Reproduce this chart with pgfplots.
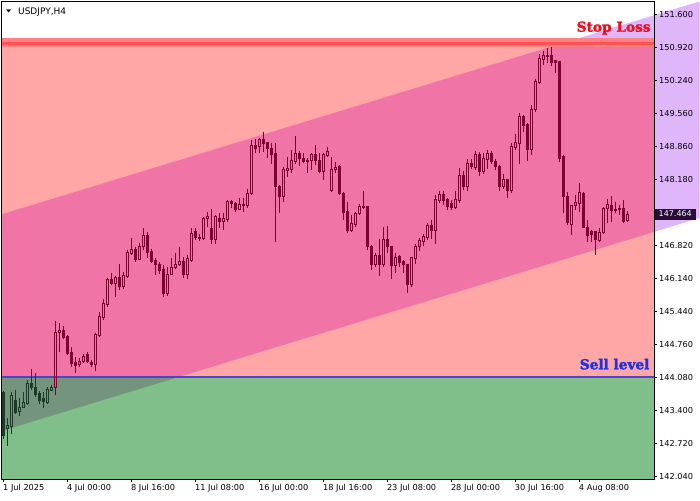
\documentclass[border=0pt]{standalone}
\usepackage{fontspec}
\setmainfont{DejaVu Sans}
\newfontfamily\lblfont[BoldFeatures={FakeBold=2.2}]{DejaVu Serif}
\usepackage{pgfplots}
\pgfplotsset{compat=1.18}

\definecolor{zSalmon}{RGB}{255,166,166}
\definecolor{zGreen}{RGB}{128,191,138}
\definecolor{chPink}{RGB}{240,116,166}
\definecolor{chGray}{RGB}{117,148,126}
\definecolor{chLav}{RGB}{224,182,250}
\definecolor{slBand}{RGB}{255,128,128}
\definecolor{slCore}{RGB}{255,82,82}
\definecolor{sellLine}{RGB}{95,60,200}
\definecolor{cMaroon}{RGB}{122,0,52}
\definecolor{cGreen}{RGB}{28,58,40}
\definecolor{pBox}{RGB}{42,12,56}
\definecolor{slText}{RGB}{238,16,32}
\definecolor{selText}{RGB}{30,50,230}

% candle: color, index, open, high, low, close
\newcommand\CC[6]{%
  \pgfmathsetmacro\xa{#2-0.25}%
  \pgfmathsetmacro\xb{#2+0.25}%
  \ifdim #3pt>#6pt
    \addplot[mark=none,line width=1pt,#1] coordinates {(#2,#4) (#2,#3)};
    \addplot[mark=none,line width=1pt,#1] coordinates {(#2,#6) (#2,#5)};
    \addplot[mark=none,line width=1pt,draw=#1,fill=#1] coordinates {(\xa,#3) (\xb,#3) (\xb,#6) (\xa,#6) (\xa,#3)};
  \else
    \addplot[mark=none,line width=1pt,#1] coordinates {(#2,#4) (#2,#6)};
    \addplot[mark=none,line width=1pt,#1] coordinates {(#2,#3) (#2,#5)};
    \addplot[mark=none,line width=1pt,draw=#1,fill=none] coordinates {(\xa,#3) (\xb,#3) (\xb,#6) (\xa,#6) (\xa,#3)};
  \fi}
\newcommand\Cg{\CC{cGreen}}
\newcommand\Cm{\CC{cMaroon}}

\begin{document}
\begin{tikzpicture}
\path[use as bounding box] (0pt,0pt) rectangle (700pt,500pt);
\begin{axis}[
  at={(2pt,21pt)}, anchor=south west,
  scale only axis, width=652pt, height=477.5pt,
  xmin=-0.375, xmax=162.7, ymin=141.979, ymax=151.865,
  clip=false, axis on top,
  axis line style={black, line width=1pt},
  tick style={black, line width=0.8pt},
  tick align=outside, major tick length=3pt,
  xtick pos=bottom, ytick pos=right, yticklabel pos=right,
  xtick={0,16,32,48,64,80,96,112,128,144},
  xticklabels={1 Jul 2025,4 Jul 00:00,8 Jul 16:00,11 Jul 08:00,16 Jul 00:00,18 Jul 16:00,23 Jul 08:00,28 Jul 00:00,30 Jul 16:00,4 Aug 08:00},
  ytick={151.6,150.917,150.234,149.551,148.869,148.186,146.820,146.137,145.454,144.771,144.089,143.406,142.723,142.040},
  yticklabels={151.600,150.920,150.240,149.560,148.860,148.180,146.820,146.140,145.440,144.760,144.080,143.400,142.720,142.040},
  ticklabel style={font=\fontsize{8.2}{9}\selectfont, text=black},
  xticklabel style={anchor=north west, inner sep=0pt, xshift=-0.5pt, yshift=-2pt},
  yticklabel style={anchor=west, inner sep=0pt, xshift=2pt},
]
% zones
\addplot[draw=none, fill=zSalmon] coordinates {(-0.375,144.10) (162.7,144.10) (162.7,150.93) (-0.375,150.93)};
\addplot[draw=none, fill=zGreen] coordinates {(-0.375,141.979) (162.7,141.979) (162.7,144.10) (-0.375,144.10)};
% channel
\addplot[draw=none, fill=chPink] coordinates {(-0.375,144.10) (44.18,144.10) (162.7,147.094) (162.7,150.93) (136.98,150.93) (-0.375,147.461)};
\addplot[draw=none, fill=chGray] coordinates {(-0.375,142.975) (44.18,144.10) (-0.375,144.10)};
\addplot[draw=none, fill=chLav] coordinates {(136.98,150.93) (162.7,151.58) (162.7,150.93)};
\addplot[draw=none, fill=chLav] coordinates {(162.7,147.094) (174.1,147.382) (174.1,151.865) (162.7,151.58)};
% stop loss band and line
\addplot[draw=none, fill=slBand] coordinates {(-0.375,150.93) (162.7,150.93) (162.7,151.10) (-0.375,151.10)};
\addplot[draw=none, fill=slCore] coordinates {(-0.375,150.965) (162.7,150.965) (162.7,151.035) (-0.375,151.035)};
% sell level line
\addplot[sellLine, line width=2pt, mark=none] coordinates {(-0.375,144.10) (162.7,144.10)};

% candles: index, open, high, low, close
\Cg{0}{143.77}{143.80}{142.80}{142.88}
\Cg{1}{143.02}{143.24}{142.66}{143.08}
\Cg{2}{143.06}{143.79}{142.92}{143.70}
\Cg{3}{143.61}{143.83}{143.33}{143.35}
\Cg{4}{143.37}{143.65}{143.28}{143.46}
\Cg{5}{143.46}{143.78}{143.45}{143.56}
\Cg{6}{143.55}{144.03}{143.51}{143.96}
\Cg{7}{143.96}{144.26}{143.82}{143.88}
\Cg{8}{143.88}{144.17}{143.68}{143.72}
\Cg{9}{143.74}{143.80}{143.54}{143.60}
\Cg{10}{143.64}{143.78}{143.45}{143.58}
\Cg{11}{143.56}{143.89}{143.55}{143.84}
\Cg{12}{143.82}{143.93}{143.80}{143.88}
\Cm{13}{143.88}{145.24}{143.72}{145.01}
\Cm{14}{145.01}{145.21}{144.61}{145.06}
\Cm{15}{145.06}{145.15}{144.87}{144.91}
\Cm{16}{144.92}{144.96}{144.55}{144.58}
\Cm{17}{144.59}{144.72}{144.29}{144.36}
\Cm{18}{144.40}{144.51}{144.18}{144.33}
\Cm{19}{144.35}{144.49}{144.29}{144.42}
\Cm{20}{144.41}{144.57}{144.38}{144.51}
\Cm{21}{144.55}{144.60}{144.38}{144.41}
\Cm{22}{144.40}{144.45}{144.30}{144.35}
\Cm{23}{144.35}{145.01}{144.22}{144.98}
\Cm{24}{144.96}{145.43}{144.92}{145.34}
\Cm{25}{145.33}{145.70}{145.27}{145.62}
\Cm{26}{145.60}{146.14}{145.55}{146.11}
\Cm{27}{146.11}{146.25}{145.99}{146.02}
\Cm{28}{146.02}{146.19}{145.74}{146.15}
\Cm{29}{146.15}{146.44}{145.89}{145.97}
\Cm{30}{145.97}{146.27}{145.92}{146.20}
\Cm{31}{146.18}{146.73}{146.15}{146.66}
\Cm{32}{146.64}{146.96}{146.62}{146.74}
\Cm{33}{146.74}{146.79}{146.47}{146.53}
\Cm{34}{146.53}{146.87}{146.51}{146.80}
\Cm{35}{146.79}{147.17}{146.73}{147.03}
\Cm{36}{147.03}{147.10}{146.55}{146.66}
\Cm{37}{146.68}{146.75}{146.46}{146.48}
\Cm{38}{146.50}{146.56}{146.20}{146.43}
\Cm{39}{146.43}{146.47}{146.22}{146.29}
\Cm{40}{146.32}{146.40}{145.74}{145.82}
\Cm{41}{145.82}{146.36}{145.77}{146.22}
\Cm{42}{146.22}{146.55}{146.20}{146.36}
\Cm{43}{146.36}{146.66}{146.33}{146.43}
\Cm{44}{146.41}{146.79}{146.40}{146.48}
\Cm{45}{146.48}{146.58}{146.14}{146.22}
\Cm{46}{146.22}{146.62}{146.12}{146.55}
\Cm{47}{146.51}{147.17}{146.47}{147.07}
\Cm{48}{147.10}{147.18}{146.93}{146.98}
\Cm{49}{146.98}{147.05}{146.90}{146.96}
\Cm{50}{146.96}{147.41}{146.93}{147.38}
\Cm{51}{147.37}{147.51}{147.20}{147.41}
\Cm{52}{147.17}{147.56}{146.84}{146.94}
\Cm{53}{146.94}{147.44}{146.84}{147.41}
\Cm{54}{147.37}{147.48}{147.17}{147.31}
\Cm{55}{147.31}{147.48}{147.13}{147.37}
\Cm{56}{147.35}{147.75}{147.31}{147.72}
\Cm{57}{147.72}{147.75}{147.58}{147.69}
\Cm{58}{147.69}{147.72}{147.51}{147.56}
\Cm{59}{147.56}{147.79}{147.55}{147.67}
\Cm{60}{147.67}{147.79}{147.51}{147.64}
\Cm{61}{147.65}{147.99}{147.60}{147.89}
\Cm{62}{147.88}{148.99}{147.86}{148.89}
\Cm{63}{148.89}{149.01}{148.72}{148.82}
\Cm{64}{148.86}{149.03}{148.72}{149.00}
\Cm{65}{149.00}{149.17}{148.75}{148.93}
\Cm{66}{148.94}{148.96}{148.62}{148.82}
\Cm{67}{148.82}{148.93}{148.51}{148.69}
\Cm{68}{148.72}{148.93}{146.89}{148.03}
\Cm{69}{148.03}{148.06}{147.48}{147.82}
\Cm{70}{147.82}{148.44}{147.72}{148.39}
\Cm{71}{148.36}{148.65}{148.24}{148.41}
\Cm{72}{148.39}{148.79}{148.31}{148.58}
\Cm{73}{148.55}{149.08}{148.51}{148.72}
\Cm{74}{148.72}{148.76}{148.45}{148.62}
\Cm{75}{148.62}{148.72}{148.53}{148.55}
\Cm{76}{148.58}{148.62}{148.31}{148.56}
\Cm{77}{148.58}{148.72}{148.38}{148.69}
\Cm{78}{148.69}{148.89}{148.48}{148.57}
\Cm{79}{148.58}{148.72}{148.31}{148.34}
\Cm{80}{148.34}{148.72}{148.17}{148.69}
\Cm{81}{148.67}{148.86}{148.65}{148.76}
\Cm{82}{147.96}{148.65}{147.93}{148.39}
\Cm{83}{148.39}{148.55}{148.32}{148.43}
\Cm{84}{148.45}{148.47}{147.85}{147.89}
\Cm{85}{147.89}{147.92}{147.34}{147.49}
\Cm{86}{147.51}{147.72}{147.08}{147.13}
\Cm{87}{147.13}{147.44}{147.10}{147.27}
\Cm{88}{147.24}{147.51}{147.20}{147.48}
\Cm{89}{147.48}{147.67}{147.44}{147.63}
\Cm{90}{147.63}{147.95}{147.58}{147.60}
\Cm{91}{147.62}{147.63}{146.72}{146.79}
\Cm{92}{146.80}{146.82}{146.31}{146.41}
\Cm{93}{146.41}{146.66}{146.37}{146.60}
\Cm{94}{146.60}{146.94}{146.18}{146.43}
\Cm{95}{146.43}{147.19}{146.37}{146.94}
\Cm{96}{146.94}{147.22}{146.65}{146.79}
\Cm{97}{146.80}{146.80}{146.11}{146.39}
\Cm{98}{146.39}{146.66}{146.24}{146.57}
\Cm{99}{146.58}{146.62}{146.37}{146.46}
\Cm{100}{146.48}{146.51}{146.24}{146.41}
\Cm{101}{146.43}{146.44}{145.84}{146.00}
\Cm{102}{146.00}{146.58}{145.95}{146.57}
\Cm{103}{146.55}{146.84}{146.44}{146.80}
\Cm{104}{146.79}{146.96}{146.70}{146.91}
\Cm{105}{146.89}{147.05}{146.80}{146.99}
\Cm{106}{146.98}{147.28}{146.92}{147.22}
\Cm{107}{147.22}{147.35}{146.95}{147.13}
\Cm{108}{147.12}{147.86}{146.85}{147.76}
\Cm{109}{147.74}{147.95}{147.70}{147.86}
\Cm{110}{147.86}{147.95}{147.66}{147.74}
\Cm{111}{147.76}{147.80}{147.55}{147.62}
\Cm{112}{147.68}{147.76}{147.55}{147.60}
\Cm{113}{147.60}{147.95}{147.56}{147.76}
\Cm{114}{147.74}{148.42}{147.70}{148.27}
\Cm{115}{148.27}{148.35}{147.96}{148.03}
\Cm{116}{148.03}{148.60}{147.95}{148.51}
\Cm{117}{148.51}{148.60}{148.40}{148.45}
\Cm{118}{148.43}{148.76}{148.38}{148.69}
\Cm{119}{148.69}{148.74}{148.25}{148.34}
\Cm{120}{148.34}{148.72}{148.30}{148.62}
\Cm{121}{148.60}{148.80}{148.40}{148.72}
\Cm{122}{148.72}{148.78}{148.50}{148.55}
\Cm{123}{148.55}{148.60}{148.38}{148.45}
\Cm{124}{148.45}{148.47}{147.95}{148.04}
\Cm{125}{148.04}{148.30}{147.98}{148.17}
\Cm{126}{148.17}{148.20}{147.79}{147.96}
\Cm{127}{147.95}{148.93}{147.90}{148.86}
\Cm{128}{148.85}{149.13}{148.80}{148.94}
\Cm{129}{148.93}{149.55}{148.51}{149.49}
\Cm{130}{149.49}{149.51}{149.17}{149.29}
\Cm{131}{149.31}{149.34}{148.57}{148.80}
\Cm{132}{148.80}{149.72}{148.69}{149.63}
\Cm{133}{149.62}{150.27}{149.58}{150.20}
\Cm{134}{150.18}{150.78}{150.17}{150.69}
\Cm{135}{150.67}{150.85}{150.55}{150.74}
\Cm{136}{150.72}{150.90}{150.59}{150.74}
\Cm{137}{150.74}{150.92}{150.53}{150.60}
\Cm{138}{150.64}{150.65}{150.39}{150.60}
\Cm{139}{150.62}{150.64}{148.55}{148.62}
\Cm{140}{148.65}{148.69}{147.48}{147.82}
\Cm{141}{147.82}{147.93}{147.24}{147.29}
\Cm{142}{147.24}{147.65}{147.03}{147.65}
\Cm{143}{147.65}{147.86}{147.55}{147.70}
\Cm{144}{147.69}{148.10}{147.51}{147.91}
\Cm{145}{147.89}{147.93}{147.17}{147.19}
\Cm{146}{147.19}{147.34}{146.89}{147.03}
\Cm{147}{147.10}{147.13}{146.89}{147.05}
\Cm{148}{147.10}{147.10}{146.62}{146.93}
\Cm{149}{146.91}{147.17}{146.89}{147.08}
\Cm{150}{147.08}{147.62}{147.07}{147.58}
\Cm{151}{147.58}{147.77}{147.28}{147.67}
\Cm{152}{147.65}{147.84}{147.29}{147.53}
\Cm{153}{147.56}{147.72}{147.49}{147.54}
\Cm{154}{147.58}{147.65}{147.44}{147.55}
\Cm{155}{147.58}{147.75}{147.29}{147.31}
\Cm{156}{147.33}{147.53}{147.30}{147.464}

% texts
\node[anchor=base west, font=\fontsize{9}{10}\selectfont, inner sep=0pt] at (axis cs:3.625,151.606) {USDJPY,H4};
\node[anchor=center, inner sep=0pt, font=\fontsize{9}{10}\selectfont] at (axis cs:1.33,151.664) {\scalebox{0.75}[0.45]{▼}};
\node[anchor=base east, inner sep=0pt, text=slText, font=\lblfont\bfseries\fontsize{13.7}{15}\selectfont] at (axis cs:161.9,151.24) {Stop Loss};
\node[anchor=base east, inner sep=0pt, text=selText, font=\lblfont\bfseries\fontsize{13.7}{15}\selectfont] at (axis cs:161.6,144.25) {Sell level};
\node[anchor=west, fill=pBox, text=white, inner xsep=4.5pt, inner ysep=0pt, minimum height=11pt, font=\fontsize{8}{9}\selectfont] at (axis cs:162.7,147.464) {147.464};
\end{axis}
\end{tikzpicture}
\end{document}
